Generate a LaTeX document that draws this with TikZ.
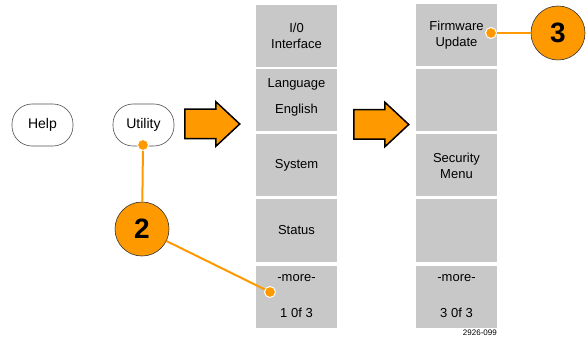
\documentclass[tikz,border=0pt]{standalone}
\usepackage{fontspec}
\setmainfont{Liberation Sans}
\usetikzlibrary{shapes.arrows}
\definecolor{callorange}{HTML}{FF9900}
\definecolor{keygray}{HTML}{C8C8C8}
\definecolor{rimgray}{HTML}{505050}
\tikzset{
  softkey/.style={fill=keygray, minimum width=81pt, minimum height=62pt, inner sep=0pt,
                  align=center, font=\fontsize{13}{16}\selectfont},
  bezel/.style={draw=rimgray, rounded corners=20pt, minimum width=61pt, minimum height=42pt,
                line width=0.6pt, font=\fontsize{14}{16}\selectfont},
  goarrow/.style={single arrow, draw=black, fill=callorange, line width=1.5pt, anchor=tail,
                  inner xsep=0pt, inner ysep=14pt, minimum height=55pt,
                  single arrow head extend=7.5pt, single arrow tip angle=86},
  callout/.style={circle, draw=black!80, fill=callorange, minimum size=54pt, inner sep=0pt,
                  line width=0.6pt, font=\fontsize{28}{28}\selectfont\bfseries},
  pin/.style={circle, fill=callorange, draw=white, line width=1pt, minimum size=11pt, inner sep=0pt},
  lead/.style={draw=callorange, line width=2pt},
}

\begin{document}
\begin{tikzpicture}[x=1pt, y=-1pt]
    \useasboundingbox (0,0) rectangle (586,339);
    % front-panel buttons
    \node[bezel] (help)    at (42.5,125)  {Help};
    \node[bezel] (utility) at (143.5,125) {Utility};
    % menu page 1
    \node[softkey] (io)     at (296.5,36)    {I/0\\Interface};
    \node[softkey, label={[align=center, font=\fontsize{13}{16}\selectfont, yshift=3.5pt]center:Language\\[10pt]English}]
                   (lang)   at (296.5,100.5) {};
    \node[softkey] (system) at (296.5,165.5) {System};
    \node[softkey] (status) at (296.5,230.5) {Status};
    \node[softkey] (more1)  at (296.5,296.5) {-more-\\[20pt]1 0f 3};
    % menu page 3
    \node[softkey] (fw)     at (456.5,35)    {Firmware\\Update};
    \node[softkey] (blankA) at (456.5,100.5) {};
    \node[softkey] (secmenu) at (456.5,165.5) {Security\\Menu};
    \node[softkey] (blankB) at (456.5,230.5) {};
    \node[softkey] (more3)  at (456.5,296.5) {-more-\\[20pt]3 0f 3};
    \node[font=\fontsize{8}{8}\selectfont, anchor=base east, inner sep=0pt] (figno) at (497,335) {2926-099};
    % flow arrows
    \node[goarrow] (go1) at (184,124)   {};
    \node[goarrow] (go2) at (353,124.5) {};
    % callouts
    \node[pin]     (pinU)  at (143,145) {};
    \node[pin]     (pinM)  at (270,292) {};
    \node[pin]     (pinF)  at (491,33)  {};
    \node[callout] (two)   at (142,229) {2};
    \node[callout] (three) at (558,33)  {3};

    \draw[lead] (pinU) -- (two);
    \draw[lead] (two) -- (pinM);
    \draw[lead] (pinF) -- (three);
\end{tikzpicture}
\end{document}
